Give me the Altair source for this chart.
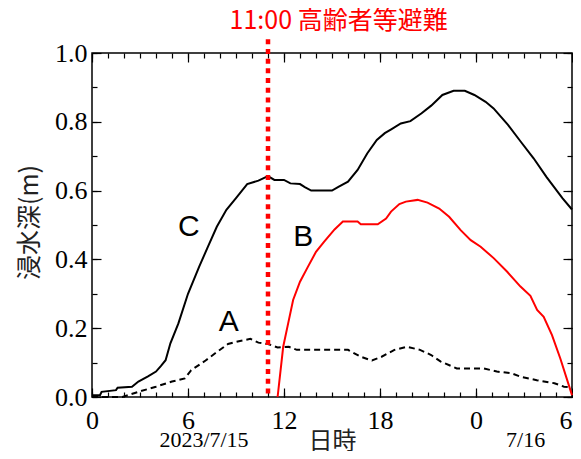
import altair as alt
import pandas as pd

# ---- data (hours since 2023/7/15 0:00, depth in m) ----
c_hours = [0, 0.5, 0.6, 1.5, 1.6, 2.5, 2.9, 3.5, 4.0, 4.3, 4.6, 4.9, 5.4, 6.0, 6.7, 7.2, 7.8, 8.4,
           9.0, 9.7, 10.4, 11.0, 11.4, 12.0, 12.4, 13.0, 13.3, 13.7, 15.0, 15.4, 16.0, 16.6, 17.2,
           17.8, 18.3, 18.7, 19.3, 19.9, 20.6, 21.2, 21.9, 22.6, 23.3, 23.9, 24.6, 25.1, 26.0,
           26.8, 27.6, 28.4, 29.4, 30]
c_depth = [0.005, 0.005, 0.015, 0.02, 0.027, 0.03, 0.045, 0.06, 0.074, 0.09, 0.107, 0.156, 0.214,
           0.30, 0.379, 0.432, 0.495, 0.544, 0.578, 0.619, 0.629, 0.642, 0.631, 0.631, 0.621, 0.619,
           0.61, 0.60, 0.60, 0.611, 0.626, 0.66, 0.708, 0.747, 0.767, 0.778, 0.795, 0.802, 0.825,
           0.847, 0.878, 0.89, 0.89, 0.878, 0.858, 0.839, 0.791, 0.742, 0.694, 0.640, 0.578, 0.545]

b_hours = [11.6, 11.95, 12.26, 12.57, 13.0, 13.5, 14.0, 14.5, 15.16, 15.68, 16.6, 16.8, 17.86,
           18.38, 18.69, 19.21, 19.62, 20.35, 20.97, 21.7, 22.32, 23.04, 23.67, 24.29, 25.12,
           25.95, 26.78, 27.4, 27.82, 28.23, 28.75, 29.27, 29.9, 30]
b_depth = [0.0, 0.146, 0.214, 0.282, 0.335, 0.379, 0.422, 0.451, 0.487, 0.51, 0.51, 0.502, 0.502,
           0.519, 0.539, 0.561, 0.568, 0.573, 0.565, 0.548, 0.524, 0.485, 0.456, 0.437, 0.403,
           0.364, 0.321, 0.294, 0.253, 0.233, 0.18, 0.112, 0.02, 0.005]

a_hours = [0, 1.9, 2.9, 4.0, 5.0, 5.8, 6.2, 7.1, 7.7, 8.5, 9.25, 9.9, 10.4, 11.0, 11.6, 12.3, 12.8,
           16.0, 16.8, 17.5, 18.1, 18.9, 19.7, 20.5, 21.2, 21.8, 22.8, 24.5, 25.3, 26.2, 26.8,
           27.8, 28.9, 29.5, 30]
a_depth = [0.0, 0.0, 0.015, 0.03, 0.045, 0.054, 0.078, 0.106, 0.127, 0.154, 0.163, 0.169, 0.158,
           0.154, 0.144, 0.146, 0.137, 0.137, 0.117, 0.106, 0.117, 0.137, 0.146, 0.137, 0.122,
           0.103, 0.083, 0.083, 0.074, 0.069, 0.059, 0.049, 0.040, 0.030, 0.028]

label_text = ["C", "A", "B"]
label_hours = [6.05, 8.55, 13.2]
label_depth = [0.494, 0.219, 0.466]

date_text = ["2023/7/15", "7/16"]
date_hours = [7.0, 27.1]
date_depth = [-0.125, -0.125]

evac_hour = 11
evac_text = "11:00 高齢者等避難"

x_major = [0, 6, 12, 18, 24, 30]
x_minor = list(range(31))
y_major = [0, 0.2, 0.4, 0.6, 0.8, 1.0]
y_minor = [round(i * 0.1, 1) for i in range(11)]

# ---- tables ----
df_c = pd.DataFrame({"h": c_hours, "v": c_depth})
df_b = pd.DataFrame({"h": b_hours, "v": b_depth})
df_a = pd.DataFrame({"h": a_hours, "v": a_depth})
df_lab = pd.DataFrame({"h": label_hours, "v": label_depth, "t": label_text})
df_date = pd.DataFrame({"h": date_hours, "v": date_depth, "t": date_text})
df_evac = pd.DataFrame({"h": [evac_hour], "top": [1.04], "bot": [0.0],
                        "th": [8.6], "tv": [1.093], "t": [evac_text]})

XS = alt.Scale(domain=[0, 30], nice=False, zero=False)
YS = alt.Scale(domain=[0, 1], nice=False, zero=False)
SERIF = "Liberation Serif"
CJK = "Noto Sans CJK JP"


def tick_layer(xorient, yorient, xvals, yvals, size):
    return alt.Chart(df_c).mark_line(strokeOpacity=0).encode(
        x=alt.X("h:Q", scale=XS, title=None,
                axis=alt.Axis(orient=xorient, values=xvals, offset=-size, tickSize=size,
                              labels=False, domain=False, grid=False, ticks=True,
                              tickColor="#000", tickWidth=1.2)),
        y=alt.Y("v:Q", scale=YS, title=None,
                axis=alt.Axis(orient=yorient, values=yvals, offset=-size, tickSize=size,
                              labels=False, domain=False, grid=False, ticks=True,
                              tickColor="#000", tickWidth=1.2)),
    )


main_axes = alt.Chart(df_c).mark_line(color="#000", strokeWidth=2).encode(
    x=alt.X("h:Q", scale=XS, title="日時",
            axis=alt.Axis(orient="bottom", values=x_major, ticks=False, tickSize=0, domain=False,
                          grid=False, labelFont=SERIF, labelFontSize=26, labelColor="#000",
                          labelPadding=10, labelFlush=False,
                          labelAlign={"condition": {"test": "datum.value >= 30", "value": "right"},
                                      "value": "center"},
                          labelExpr="datum.value >= 24 ? '' + (datum.value - 24) : datum.label",
                          titleFont=CJK, titleFontSize=24, titleFontWeight="normal",
                          titleColor="#222", titleY=44, titleBaseline="middle")),
    y=alt.Y("v:Q", scale=YS, title="浸水深(m)",
            axis=alt.Axis(orient="left", values=y_major, format=".1f", ticks=False, tickSize=0,
                          domain=False, grid=False, labelFont=SERIF, labelFontSize=26,
                          labelColor="#000", labelPadding=5, labelFlush=False,
                          titleFont=CJK, titleFontSize=25, titleFontWeight="normal",
                          titleColor="#222", titleAngle=270, titleX=-63, titleY=169,
                          titleAlign="center", titleBaseline="middle")),
)

enc_noaxis = dict(
    x=alt.X("h:Q", scale=XS, axis=None),
    y=alt.Y("v:Q", scale=YS, axis=None),
)

line_b = alt.Chart(df_b).mark_line(color="#ff0000", strokeWidth=2).encode(**enc_noaxis)
line_a = alt.Chart(df_a).mark_line(color="#000", strokeWidth=2, strokeDash=[6, 4]).encode(**enc_noaxis)

labels = alt.Chart(df_lab).mark_text(font="Liberation Sans", fontSize=30, color="#000",
                                     align="center", baseline="middle").encode(
    text="t:N", **enc_noaxis)

dates = alt.Chart(df_date).mark_text(font=SERIF, fontSize=22, color="#000",
                                     align="center", baseline="middle").encode(
    text="t:N", **enc_noaxis)

evac_rule = alt.Chart(df_evac).mark_rule(color="#ff0000", strokeWidth=4.5,
                                         strokeDash=[5, 4.7], strokeCap="butt").encode(
    x=alt.X("h:Q", scale=XS, axis=None),
    y=alt.Y("top:Q", scale=YS, axis=None),
    y2="bot:Q",
)

evac_label = alt.Chart(df_evac).mark_text(font=CJK, fontSize=25, color="#ff0000",
                                          align="left", baseline="middle").encode(
    x=alt.X("th:Q", scale=XS, axis=None),
    y=alt.Y("tv:Q", scale=YS, axis=None),
    text="t:N",
)

chart = alt.layer(
    main_axes,
    tick_layer("bottom", "left", x_major, y_major, 9),
    tick_layer("bottom", "left", x_minor, y_minor, 5),
    tick_layer("top", "right", x_major, y_major, 9),
    tick_layer("top", "right", x_minor, y_minor, 5),
    line_b,
    line_a,
    labels,
    dates,
    evac_rule,
    evac_label,
).resolve_axis(x="independent", y="independent").properties(
    width=480,
    height=344,
    padding={"left": 84, "top": 45, "right": 1, "bottom": 54},
    autosize=alt.AutoSizeParams(type="none"),
    background="white",
).configure_view(stroke="#000", strokeWidth=1.5)

chart.save("out.html", embed_options={"renderer": "svg", "actions": False})
